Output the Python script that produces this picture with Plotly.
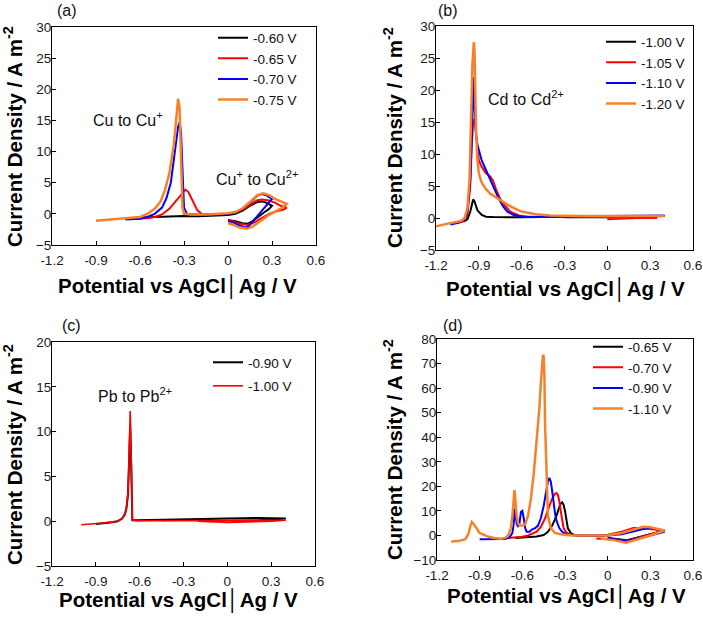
import plotly.graph_objects as go

W, H = 703, 620
FONT = "Arial, Liberation Sans, sans-serif"

# ---------------- Panel (a): Cu ----------------
A_LABELS = ["-0.60 V", "-0.65 V", "-0.70 V", "-0.75 V"]
A_X1 = [-0.60,-0.50,-0.40,-0.30,-0.20,-0.10,0.00,0.05,0.10,0.15,0.20,0.23,0.26,0.30,
        0.28,0.25,0.20,0.16,0.13,0.10,0.05,0.00]
A_Y1 = [-0.6,-0.5,-0.45,-0.35,-0.4,-0.35,-0.2,0.0,0.5,1.3,1.9,2.0,1.8,1.3,
        0.8,0.3,-0.6,-1.3,-1.6,-1.5,-1.2,-1.0]
A_X2 = [-0.65,-0.55,-0.50,-0.45,-0.40,-0.35,-0.31,-0.29,-0.27,-0.24,-0.21,-0.18,-0.10,0.00,0.05,0.10,0.15,0.20,0.23,0.27,0.32,0.36,0.40,
        0.38,0.33,0.28,0.22,0.17,0.13,0.08,0.03,0.00]
A_Y2 = [-0.8,-0.7,-0.5,-0.1,0.8,2.2,3.5,3.9,3.5,2.0,0.6,0.0,-0.1,0.0,0.2,0.7,1.5,2.2,2.3,2.2,1.8,1.3,1.0,
        0.7,0.4,0.0,-0.8,-1.5,-1.8,-1.6,-1.2,-1.0]
A_X3 = [-0.70,-0.60,-0.55,-0.50,-0.45,-0.42,-0.39,-0.36,-0.34,-0.33,-0.32,-0.31,-0.30,-0.28,-0.20,-0.10,0.00,0.05,0.10,0.15,0.20,0.23,0.26,0.30,
        0.27,0.23,0.18,0.14,0.12,0.08,0.04,0.00]
A_Y3 = [-0.9,-0.8,-0.5,0.0,1.0,2.5,5.0,10.0,14.0,14.7,13.0,7.0,1.0,0.0,-0.1,-0.1,0.0,0.2,0.8,1.8,2.9,3.2,3.0,2.4,
        1.6,0.6,-0.9,-2.0,-2.2,-1.9,-1.4,-1.2]
A_X4 = [-0.90,-0.80,-0.70,-0.60,-0.55,-0.50,-0.46,-0.43,-0.40,-0.37,-0.35,-0.34,-0.33,-0.32,-0.31,-0.30,-0.25,-0.15,-0.05,0.00,0.05,0.10,0.15,0.20,0.24,0.28,0.32,0.36,0.40,
        0.37,0.32,0.27,0.22,0.17,0.13,0.08,0.03,0.00]
A_Y4 = [-1.1,-0.9,-0.8,-0.5,0.0,0.8,2.0,3.8,6.5,11.0,16.0,18.5,17.0,8.0,1.0,0.0,-0.1,-0.1,0.0,0.1,0.3,0.9,1.9,3.0,3.3,3.0,2.4,2.0,1.6,
        1.0,0.4,-0.3,-1.2,-2.0,-2.4,-2.2,-1.7,-1.5]

# ---------------- Panel (b): Cd ----------------
B_LABELS = ["-1.00 V", "-1.05 V", "-1.10 V", "-1.20 V"]
B_X1 = [-1.00,-0.98,-0.96,-0.95,-0.94,-0.93,-0.91,-0.88,-0.85,-0.80,-0.60,-0.30,0.00,0.20,0.40,
        0.20,0.00,-0.30]
B_Y1 = [-0.5,-0.2,1.0,2.2,2.9,2.6,1.2,0.5,0.2,0.15,0.1,0.2,0.2,0.25,0.3,
        0.25,0.1,0.1]
B_X2 = [-1.05,-1.00,-0.98,-0.96,-0.95,-0.94,-0.93,-0.92,-0.91,-0.90,-0.88,-0.85,-0.82,-0.80,-0.78,-0.75,-0.72,-0.68,-0.62,-0.55,-0.40,-0.20,0.00,0.20,0.35,
        0.20,0.00]
B_Y2 = [-0.8,-0.5,0.5,5.0,11.0,15.0,15.5,13.0,10.5,9.0,8.0,7.0,6.5,5.8,4.5,3.0,2.0,1.0,0.4,0.2,0.2,0.2,0.1,0.1,0.0,
        0.0,-0.2]
B_X3 = [-1.10,-1.05,-1.00,-0.98,-0.96,-0.95,-0.94,-0.935,-0.93,-0.92,-0.91,-0.90,-0.88,-0.85,-0.82,-0.79,-0.76,-0.73,-0.70,-0.66,-0.60,-0.50,-0.30,0.00,0.20,0.40,
        0.20,0.00]
B_Y3 = [-1.0,-0.8,-0.3,1.0,6.0,14.0,21.5,22.0,18.0,13.0,11.5,10.5,9.0,7.5,6.0,4.5,3.0,1.8,1.0,0.5,0.2,0.15,0.2,0.3,0.4,0.4,
        0.35,0.3]
B_X4 = [-1.20,-1.15,-1.10,-1.05,-1.02,-1.00,-0.98,-0.965,-0.955,-0.945,-0.935,-0.93,-0.925,-0.92,-0.91,-0.90,-0.88,-0.85,-0.82,-0.78,-0.74,-0.70,-0.65,-0.60,-0.50,-0.40,-0.20,0.00,0.20,0.40]
B_Y4 = [-1.3,-1.0,-0.8,-0.6,-0.4,0.0,1.5,6.0,14.0,24.0,27.5,26.0,20.0,14.0,9.0,7.0,5.5,4.5,3.8,3.2,2.6,2.1,1.5,1.0,0.6,0.4,0.3,0.3,0.3,0.3]

# ---------------- Panel (c): Pb ----------------
C_LABELS = ["-0.90 V", "-1.00 V"]
C_X1 = [-0.90,-0.85,-0.80,-0.75,-0.72,-0.70,-0.69,-0.68,-0.675,-0.67,-0.665,-0.66,-0.655,-0.65,-0.62,-0.50,-0.30,0.00,0.20,0.30,0.40,
        0.30,0.20,0.00,-0.20,-0.45]
C_Y1 = [-0.3,-0.25,-0.15,0.0,0.3,0.8,1.5,3.0,5.0,8.0,10.5,8.0,3.0,0.1,0.1,0.15,0.15,0.3,0.35,0.35,0.3,
        0.2,0.3,0.3,0.2,0.1]
C_X2 = [-1.00,-0.95,-0.90,-0.85,-0.80,-0.75,-0.72,-0.70,-0.69,-0.68,-0.675,-0.67,-0.665,-0.66,-0.655,-0.65,-0.62,-0.50,-0.30,0.00,0.20,0.40,
        0.30,0.10,0.00,-0.20]
C_Y2 = [-0.4,-0.35,-0.3,-0.2,-0.1,0.0,0.3,0.8,1.6,3.2,5.5,9.0,12.3,9.0,2.5,0.1,0.05,0.05,0.1,0.1,0.1,0.1,
        0.0,-0.15,-0.15,0.0]

# ---------------- Panel (d): mixed ----------------
D_LABELS = ["-0.65 V", "-0.70 V", "-0.90 V", "-1.10 V"]
D_X1 = [-0.65,-0.60,-0.55,-0.50,-0.45,-0.42,-0.39,-0.36,-0.34,-0.33,-0.32,-0.31,-0.30,-0.29,-0.28,-0.26,-0.24,-0.20,-0.10,0.00,0.10,0.20,0.30,0.40,
        0.30,0.20,0.13,0.05,0.00]
D_Y1 = [-1.0,-0.9,-0.7,-0.4,0.2,1.5,4.0,8.0,11.5,13.0,13.5,12.5,10.0,6.0,3.0,1.0,0.3,0.0,-0.2,0.0,1.0,2.5,3.0,2.0,
        0.5,-1.0,-2.0,-1.3,-1.0]
D_X2 = [-0.70,-0.65,-0.60,-0.56,-0.53,-0.50,-0.47,-0.44,-0.41,-0.39,-0.37,-0.36,-0.35,-0.34,-0.33,-0.32,-0.31,-0.29,-0.27,-0.24,-0.20,-0.10,0.00,0.10,0.18,0.22,0.30,0.40,
        0.30,0.20,0.13,0.05,-0.03,-0.08]
D_Y2 = [-1.0,-0.8,-0.5,0.0,0.8,1.5,3.5,7.0,12.0,15.0,17.0,17.3,16.5,14.0,10.0,6.0,3.0,1.2,0.5,0.2,0.0,0.0,0.3,1.5,3.0,3.0,2.5,2.0,
        0.5,-1.0,-2.3,-1.6,-1.2,-1.2]
D_X3 = [-0.90,-0.80,-0.72,-0.69,-0.67,-0.66,-0.655,-0.65,-0.64,-0.63,-0.62,-0.61,-0.60,-0.59,-0.58,-0.57,-0.55,-0.53,-0.51,-0.49,-0.47,-0.45,-0.43,-0.42,-0.41,-0.40,-0.39,-0.38,-0.37,-0.36,-0.34,-0.32,-0.30,-0.27,-0.22,-0.10,0.00,0.10,0.20,0.28,0.35,0.40,
        0.30,0.20,0.13,0.05,0.00]
D_Y3 = [-1.5,-1.5,-1.4,-0.8,1.0,5.0,11.0,9.0,5.0,3.5,5.0,9.5,10.0,7.0,3.0,1.5,1.5,2.5,3.0,4.0,7.0,12.0,19.0,22.0,23.5,22.0,18.0,13.0,9.0,6.0,3.0,1.5,0.8,0.3,0.0,0.0,0.0,0.5,2.0,3.0,2.5,1.5,
        0.0,-1.5,-2.5,-1.5,-1.0]
D_X4 = [-1.10,-1.05,-1.00,-0.98,-0.965,-0.955,-0.94,-0.92,-0.90,-0.85,-0.80,-0.75,-0.72,-0.70,-0.68,-0.67,-0.66,-0.655,-0.65,-0.64,-0.63,-0.62,-0.60,-0.58,-0.56,-0.54,-0.52,-0.50,-0.48,-0.47,-0.46,-0.455,-0.45,-0.445,-0.44,-0.43,-0.42,-0.40,-0.37,-0.33,-0.25,-0.10,0.00,0.10,0.20,0.25,0.30,0.40,
        0.30,0.20,0.13,0.05,0.00,-0.05]
D_Y4 = [-2.5,-2.3,-1.5,0.5,4.0,5.5,4.5,2.5,1.0,-0.3,-1.0,-1.3,-1.0,0.0,3.0,8.0,15.0,18.5,15.0,8.0,5.0,4.0,4.0,4.5,8.0,15.0,25.0,38.0,52.0,62.0,70.0,73.5,73.0,65.0,45.0,20.0,8.0,3.0,1.0,0.5,0.0,0.0,0.0,1.0,2.8,3.5,3.3,2.0,
        0.0,-1.8,-3.0,-2.0,-1.5,-1.2]

X_TICKS = [-1.2, -0.9, -0.6, -0.3, 0, 0.3, 0.6]
X_TICKTEXT = ["-1.2", "-0.9", "-0.6", "-0.3", "0", "0.3", "0.6"]
COLORS = ["#000000", "#ff0000", "#0000ff", "#f5822a"]

def px(x):
    return x / W

def py(y):
    return 1 - y / H

fig = go.Figure()

panels = [
    ("", "legend", A_LABELS, [(A_X1, A_Y1), (A_X2, A_Y2), (A_X3, A_Y3), (A_X4, A_Y4)], [2, 2, 2, 2.5]),
    ("2", "legend2", B_LABELS, [(B_X1, B_Y1), (B_X2, B_Y2), (B_X3, B_Y3), (B_X4, B_Y4)], [2, 2, 2, 2.5]),
    ("3", "legend3", C_LABELS, [(C_X1, C_Y1), (C_X2, C_Y2)], [2, 1.6]),
    ("4", "legend4", D_LABELS, [(D_X1, D_Y1), (D_X2, D_Y2), (D_X3, D_Y3), (D_X4, D_Y4)], [2, 2, 2, 2.5]),
]

for suf, leg, labels, curves, widths in panels:
    for i, ((xs, ys), lab) in enumerate(zip(curves, labels)):
        fig.add_trace(go.Scatter(
            x=xs, y=ys, mode="lines", name=lab,
            line=dict(color=COLORS[i], width=widths[i]),
            xaxis="x" + suf, yaxis="y" + suf, legend=leg,
            legendgroup=leg + str(i),
        ))

# pixel boxes: (left, right, top, bottom)
boxes = {
    "": (52, 316, 27, 245),
    "2": (436, 693, 26, 250),
    "3": (52, 315, 342, 566),
    "4": (437, 693, 339, 560),
}
yranges = {"": ([-5, 30], 5), "2": ([-5, 30], 5), "3": ([-5, 20], 5), "4": ([-10, 80], 10)}

axis_common = dict(
    showline=True, mirror=True, linecolor="#000000", linewidth=1,
    ticks="inside", ticklen=4, tickcolor="#000000",
    showgrid=False, zeroline=False,
    tickfont=dict(family=FONT, size=13.5, color="#1a1a1a"),
)

layout = {}
for suf, (l, r, t, b) in boxes.items():
    layout["xaxis" + suf] = dict(
        domain=[px(l), px(r)], range=[-1.2, 0.6],
        tickvals=X_TICKS, ticktext=X_TICKTEXT,
        anchor="y" + suf, ticklabelstandoff=3, **axis_common,
    )
    yr, dt = yranges[suf]
    layout["yaxis" + suf] = dict(
        domain=[py(b), py(t)], range=yr, dtick=dt, tick0=yr[0],
        anchor="x" + suf, ticklabelstandoff=-3, **axis_common,
    )

fig.update_layout(**layout)

legend_common = dict(
    bgcolor="rgba(0,0,0,0)", borderwidth=0,
    font=dict(family=FONT, size=13.5, color="#111111"),
    xanchor="left", yanchor="top", itemwidth=30,
    tracegroupgap=0,
)
fig.update_layout(
    legend=dict(x=px(213), y=py(22.5), **legend_common),
    legend2=dict(x=px(601), y=py(26.5), **legend_common),
    legend3=dict(x=px(208), y=py(347), **{**legend_common, "tracegroupgap": 3}),
    legend4=dict(x=px(588), y=py(331.5), **legend_common),
)

annotations = []
for txt, x, y in [("(a)", 55, 11), ("(b)", 436, 11), ("(c)", 60, 325), ("(d)", 441, 325)]:
    annotations.append(dict(text=txt, x=px(x), y=py(y), xref="paper", yref="paper",
                            xanchor="left", yanchor="middle", showarrow=False,
                            font=dict(family=FONT, size=16, color="#111111")))
for x, y in [(13, 137), (393, 138), (13, 455), (393, 450)]:
    annotations.append(dict(text="<b>Current Density / A m<sup>-2</sup></b>", x=px(x), y=py(y),
                            xref="paper", yref="paper", textangle=-90, showarrow=False,
                            xanchor="center", yanchor="middle",
                            font=dict(family=FONT, size=20.5, color="#000000")))
for x, y in [(177, 287), (565, 290), (178, 601), (566, 597)]:
    annotations.append(dict(text="<b>Potential vs AgCl│Ag / V</b>", x=px(x), y=py(y),
                            xref="paper", yref="paper", showarrow=False,
                            xanchor="center", yanchor="middle",
                            font=dict(family=FONT, size=20.5, color="#000000")))
peak_labels = [
    ("Cu to Cu<sup>+</sup>", "", -0.68, 15.2),
    ("Cu<sup>+</sup> to Cu<sup>2+</sup>", "", 0.20, 5.75),
    ("Cd to Cd<sup>2+</sup>", "2", -0.57, 18.75),
    ("Pb to Pb<sup>2+</sup>", "3", -0.63, 14.1),
]
for txt, suf, x, y in peak_labels:
    annotations.append(dict(text=txt, x=x, y=y, xref="x" + suf, yref="y" + suf,
                            showarrow=False, xanchor="center", yanchor="middle",
                            font=dict(family=FONT, size=16, color="#111111")))

fig.update_layout(
    annotations=annotations,
    width=W, height=H,
    margin=dict(l=0, r=0, t=0, b=0, autoexpand=False),
    paper_bgcolor="#ffffff", plot_bgcolor="#ffffff",
    showlegend=True,
)

# remove the browser's default 8px body margin so the figure fills the window
fig.write_html("out.html", config={"displayModeBar": False},
               post_script="document.body.style.margin='0px';")
